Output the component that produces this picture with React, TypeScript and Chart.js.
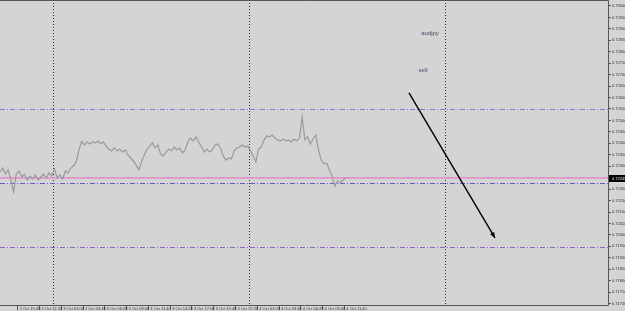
import React, { useEffect, useRef } from "react";
import { Chart, registerables } from "chart.js";

Chart.register(...registerables);

// ---- data ----
const STEP_HOURS = 1 / 3; // one close every 20 minutes
const closePrices = [
  0.72275, 0.72292, 0.72266, 0.72284, 0.7224, 0.72188, 0.72266, 0.72279, 0.72253, 0.72266,
  0.7224, 0.72257, 0.72244, 0.72262, 0.7224, 0.72253, 0.72266, 0.72249, 0.72271, 0.72257,
  0.72288, 0.72249, 0.72262, 0.72244, 0.72279, 0.72271, 0.72292, 0.72301, 0.72319, 0.72371,
  0.7241, 0.72393, 0.72406, 0.72397, 0.72406, 0.72402, 0.7241, 0.72397, 0.72406, 0.72388,
  0.72375, 0.72367, 0.7238, 0.72367, 0.72375, 0.72362, 0.72371, 0.72349, 0.72336, 0.72323,
  0.72306, 0.72284, 0.72319, 0.72349, 0.72375, 0.72388, 0.72402, 0.7238, 0.72393, 0.72353,
  0.72345, 0.72362, 0.72375, 0.72367, 0.72384, 0.72371, 0.7238, 0.72358, 0.72371, 0.72406,
  0.72423, 0.7241, 0.72428, 0.72406, 0.72384, 0.72362, 0.72375, 0.72362, 0.72371, 0.72393,
  0.72397, 0.7238, 0.72345, 0.72327, 0.72336, 0.72332, 0.72367, 0.7238, 0.72384, 0.72393,
  0.72384, 0.72388, 0.72367, 0.72345, 0.72319, 0.72375, 0.72384, 0.72415, 0.72432, 0.72428,
  0.72436, 0.72423, 0.72415, 0.7241, 0.72419, 0.7241, 0.72415, 0.72406, 0.72419, 0.7241,
  0.72423, 0.72515, 0.72415, 0.72428, 0.72397, 0.72419, 0.72436, 0.72371, 0.72327, 0.7231,
  0.72314, 0.72284, 0.72257, 0.72214, 0.72236, 0.72227, 0.7224, 0.72249,
];

const yTickValues = [
  0.73, 0.7295, 0.729, 0.7285, 0.728, 0.7275, 0.727, 0.7265, 0.726, 0.7255,
  0.725, 0.7245, 0.724, 0.7235, 0.723, 0.7225, 0.722, 0.7215, 0.721, 0.7205,
  0.72, 0.7195, 0.719, 0.7185, 0.718, 0.7175, 0.717,
];

const xLabelHours = [
  2.1667, 4.8333, 7.5, 10.1667, 12.8333, 15.5, 18.1667, 20.8333,
  23.5, 26.1667, 28.8333, 31.5, 34.1667, 36.8333, 39.5, 42.1667,
];
const xLabelTexts = [
  "2 Oct 19:40", "2 Oct 22:20", "3 Oct 01:00", "3 Oct 03:40", "3 Oct 06:20", "3 Oct 09:00",
  "3 Oct 11:40", "3 Oct 14:20", "3 Oct 17:00", "3 Oct 19:40", "3 Oct 22:20", "4 Oct 01:00",
  "4 Oct 03:40", "4 Oct 06:20", "4 Oct 09:00", "4 Oct 11:40",
];

const daySeparatorHours = [6.5, 30.5, 54.5];
const levelPrices = [0.7255, 0.72227, 0.71948];
const levelColors = ["#9a6fd6", "#6a5acd", "#8f63c8"];
const bidPrice = closePrices[closePrices.length - 1];

const noteTexts = ["audjpy", "sell"];
const noteHours = [52.65, 51.8];
const notePrices = [0.72882, 0.7272];

const arrowFrom = { x: 50.08, y: 0.7262 };
const arrowTo = { x: 60.61, y: 0.71987 };

const X_MIN = 0;
const X_MAX = 74.45;
const Y_MIN = 0.71694;
const Y_MAX = 0.73026;

const BG = "#d4d4d4";
const FRAME = "#555555";

const overlayPlugin = {
  id: "overlay",
  beforeDraw(chart: any) {
    const { ctx, width, height } = chart;
    ctx.save();
    ctx.fillStyle = BG;
    ctx.fillRect(0, 0, width, height);
    ctx.restore();
  },
  beforeDatasetsDraw(chart: any) {
    const { ctx, chartArea: a, scales } = chart;
    const xs = scales.x;
    const ys = scales.y;
    ctx.save();
    // day separators
    ctx.strokeStyle = "#2b2b2b";
    ctx.lineWidth = 1;
    ctx.setLineDash([1, 2]);
    daySeparatorHours.forEach((t) => {
      const px = Math.round(xs.getPixelForValue(t)) + 0.5;
      ctx.beginPath();
      ctx.moveTo(px, a.top);
      ctx.lineTo(px, a.bottom);
      ctx.stroke();
    });
    // dash-dot levels
    ctx.setLineDash([5, 2, 1, 2]);
    levelPrices.forEach((p, i) => {
      const py = Math.round(ys.getPixelForValue(p)) + 0.5;
      ctx.strokeStyle = levelColors[i];
      ctx.beginPath();
      ctx.moveTo(a.left, py);
      ctx.lineTo(a.right, py);
      ctx.stroke();
    });
    // bid line
    ctx.setLineDash([]);
    ctx.strokeStyle = "#e394cc";
    ctx.lineWidth = 1.6;
    const by = ys.getPixelForValue(bidPrice);
    ctx.beginPath();
    ctx.moveTo(a.left, by);
    ctx.lineTo(a.right, by);
    ctx.stroke();
    ctx.restore();
  },
  afterDatasetsDraw(chart: any) {
    const { ctx, scales } = chart;
    const xs = scales.x;
    const ys = scales.y;
    ctx.save();
    // arrow
    const x1 = xs.getPixelForValue(arrowFrom.x);
    const y1 = ys.getPixelForValue(arrowFrom.y);
    const x2 = xs.getPixelForValue(arrowTo.x);
    const y2 = ys.getPixelForValue(arrowTo.y);
    ctx.strokeStyle = "#000";
    ctx.fillStyle = "#000";
    ctx.lineWidth = 1.4;
    ctx.beginPath();
    ctx.moveTo(x1, y1);
    ctx.lineTo(x2, y2);
    ctx.stroke();
    const ang = Math.atan2(y2 - y1, x2 - x1);
    const hl = 6;
    ctx.beginPath();
    ctx.moveTo(x2, y2);
    ctx.lineTo(x2 - hl * Math.cos(ang - 0.4), y2 - hl * Math.sin(ang - 0.4));
    ctx.lineTo(x2 - hl * Math.cos(ang + 0.4), y2 - hl * Math.sin(ang + 0.4));
    ctx.closePath();
    ctx.fill();
    // notes
    ctx.fillStyle = "#4a4a66";
    ctx.font = "6px 'Liberation Sans', Arial, sans-serif";
    ctx.textAlign = "center";
    ctx.textBaseline = "middle";
    noteTexts.forEach((t, i) => {
      ctx.fillText(t, xs.getPixelForValue(noteHours[i]), ys.getPixelForValue(notePrices[i]));
    });
    ctx.restore();
  },
  afterDraw(chart: any) {
    const { ctx, chartArea: a, width, scales } = chart;
    const ys = scales.y;
    ctx.save();
    // frame
    ctx.strokeStyle = FRAME;
    ctx.lineWidth = 1;
    ctx.beginPath();
    ctx.moveTo(0, 0.5);
    ctx.lineTo(a.right + 0.5, 0.5);
    ctx.lineTo(a.right + 0.5, a.bottom + 0.5);
    ctx.lineTo(0, a.bottom + 0.5);
    ctx.stroke();
    // bid price label
    const by = Math.round(ys.getPixelForValue(bidPrice));
    ctx.fillStyle = "#000";
    ctx.fillRect(a.right + 1, by - 3, width - a.right - 1, 7);
    ctx.fillStyle = "#f0f0f0";
    ctx.font = "4px 'Liberation Sans', Arial, sans-serif";
    ctx.textAlign = "left";
    ctx.textBaseline = "middle";
    ctx.fillText(bidPrice.toFixed(5), a.right + 4, by + 0.5);
    ctx.restore();
  },
};

export default function App() {
  const ref = useRef<HTMLCanvasElement | null>(null);
  useEffect(() => {
    if (!ref.current) return;
    const points = closePrices.map((p, i) => ({ x: i * STEP_HOURS, y: p }));
    const chart = new Chart(ref.current, {
      type: "line",
      data: {
        datasets: [
          {
            data: points,
            borderColor: "#9a9a9a",
            borderWidth: 1.2,
            pointRadius: 0,
            tension: 0,
            fill: false,
          },
        ],
      },
      options: {
        animation: false,
        responsive: false,
        devicePixelRatio: 1,
        layout: { padding: 0, autoPadding: false } as any,
        plugins: { legend: { display: false }, tooltip: { enabled: false } },
        scales: {
          x: {
            type: "linear",
            min: X_MIN,
            max: X_MAX,
            position: "bottom",
            border: { display: false },
            grid: { drawOnChartArea: false, drawTicks: true, tickLength: 5, color: FRAME },
            afterBuildTicks: (s: any) => {
              s.ticks = xLabelHours.map((v) => ({ value: v }));
            },
            afterFit: (s: any) => {
              s.height = 6;
              s.paddingLeft = 0;
              s.paddingRight = 0;
            },
            ticks: {
              autoSkip: false,
              maxRotation: 0,
              minRotation: 0,
              align: "start",
              labelOffset: 2,
              padding: -4,
              color: "#333",
              font: { size: 4, family: "'Liberation Sans', Arial, sans-serif" },
              callback: (_v: any, i: number) => xLabelTexts[i],
            },
          },
          y: {
            type: "linear",
            position: "right",
            min: Y_MIN,
            max: Y_MAX,
            border: { display: false },
            grid: { drawOnChartArea: false, drawTicks: true, tickLength: 3, color: FRAME },
            afterBuildTicks: (s: any) => {
              s.ticks = yTickValues.map((v) => ({ value: v }));
            },
            afterFit: (s: any) => {
              s.width = 17;
              s.paddingTop = 0;
              s.paddingBottom = 0;
            },
            ticks: {
              autoSkip: false,
              padding: 1,
              color: "#333",
              font: { size: 4, family: "'Liberation Sans', Arial, sans-serif" },
              callback: (v: any) => Number(v).toFixed(5),
            },
          },
        },
      },
      plugins: [overlayPlugin],
    });
    return () => chart.destroy();
  }, []);
  return (
    <div style={{ position: "fixed", left: 0, top: 0, width: 625, height: 311, background: BG }}>
      <canvas ref={ref} width={625} height={311} style={{ display: "block" }} />
    </div>
  );
}
